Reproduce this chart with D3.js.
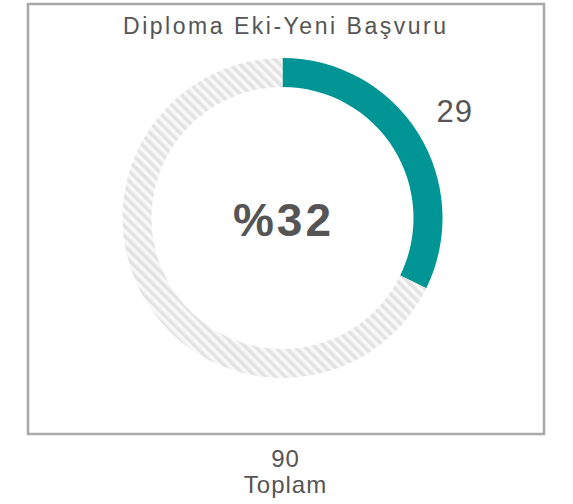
<!DOCTYPE html>
<html>
<head>
<meta charset="utf-8">
<script src="https://cdn.jsdelivr.net/npm/d3@7"></script>
<style>
  html, body { margin: 0; padding: 0; background: #fff; }
  text { font-family: "Liberation Sans", Arial, sans-serif; fill: #555; }
</style>
</head>
<body>
<svg id="chart" width="573" height="504"></svg>
<script>
const title = "Diploma Eki-Yeni Başvuru";
const categories = ["Başvuru", "Kalan"];
const values = [29, 61];
const total = 90;
const totalLabel = "Toplam";
const percentLabel = "%32";

const svg = d3.select("#chart");
const cx = 282.5, cy = 218, outerR = 160, innerR = 131;

const defs = svg.append("defs");
const pat = defs.append("pattern")
  .attr("id", "hatch").attr("patternUnits", "userSpaceOnUse")
  .attr("width", 7).attr("height", 7)
  .attr("patternTransform", "rotate(-45)");
pat.append("rect").attr("width", 7).attr("height", 7).attr("fill", "#f8f8f8");
pat.append("rect").attr("width", 3.5).attr("height", 7).attr("fill", "#e2e2e2");

svg.append("rect")
  .attr("x", 28).attr("y", 4).attr("width", 516).attr("height", 430)
  .attr("fill", "#fff").attr("stroke", "#a9a9a9").attr("stroke-width", 2.5);

svg.append("text")
  .attr("x", cx + 2).attr("y", 34).attr("text-anchor", "middle")
  .style("font-size", "23px")
  .attr("textLength", 323).attr("lengthAdjust", "spacing")
  .text(title);

const pie = d3.pie().sort(null).value(d => d)(values);
const arc = d3.arc().innerRadius(innerR).outerRadius(outerR);
const g = svg.append("g").attr("transform", `translate(${cx},${cy})`);
g.selectAll("path").data(pie).join("path")
  .attr("d", arc)
  .attr("fill", (d, i) => i === 0 ? "#009595" : "url(#hatch)");

const labelArc = d3.arc().innerRadius(203).outerRadius(203);
const c = labelArc.centroid(pie[0]);
g.append("text")
  .attr("x", c[0]).attr("y", c[1]).attr("dy", "0.36em")
  .attr("text-anchor", "middle")
  .style("font-size", "31px").style("letter-spacing", "1px")
  .text(values[0]);

g.append("text")
  .attr("x", 1).attr("y", 18).attr("text-anchor", "middle")
  .style("font-size", "46px").style("font-weight", "bold").style("letter-spacing", "3px")
  .text(percentLabel);

svg.append("text")
  .attr("x", cx + 3).attr("y", 467).attr("text-anchor", "middle")
  .style("font-size", "24px").style("letter-spacing", "1px")
  .text(total);
svg.append("text")
  .attr("x", cx + 3).attr("y", 493).attr("text-anchor", "middle")
  .style("font-size", "24px").style("letter-spacing", "1px")
  .text(totalLabel);
</script>
</body>
</html>
